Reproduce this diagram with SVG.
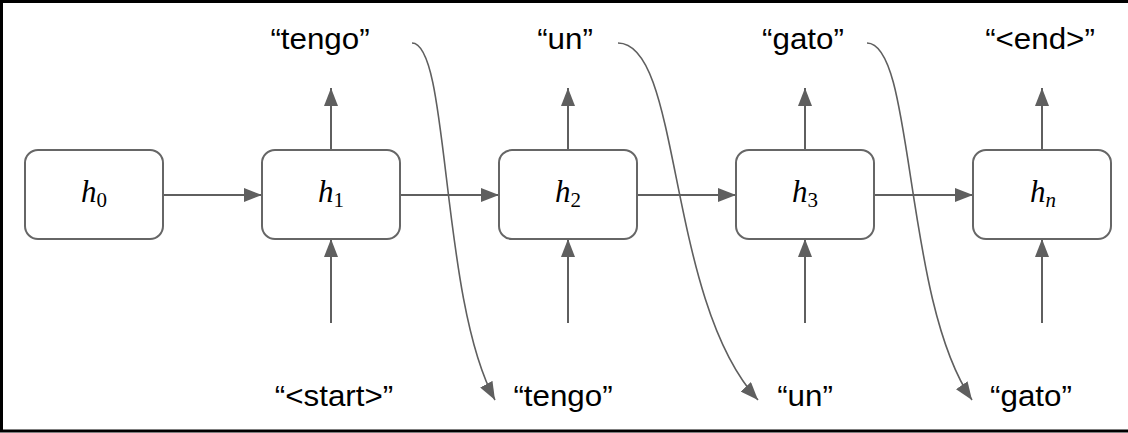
<svg xmlns="http://www.w3.org/2000/svg" width="1128" height="433" viewBox="0 0 1128 433">
<style>
.box{fill:#fff;stroke:#666;stroke-width:2}
.ar{fill:none;stroke:#5f5f5f;stroke-width:2}
.cv{fill:none;stroke:#5f5f5f;stroke-width:1.6}
.lbl{font-family:"Liberation Sans",Arial,sans-serif;font-size:29px;fill:#000;text-anchor:middle}
.math{font-family:"Liberation Serif","Times New Roman",serif;font-style:italic;font-size:31px;fill:#000;text-anchor:middle}
.sub{font-style:normal;font-size:21px}
</style>
<defs>
<marker id="ah" markerUnits="userSpaceOnUse" markerWidth="18" markerHeight="14" refX="18" refY="7" orient="auto">
<path d="M0,0 L18,7 L0,14 Z" fill="#5f5f5f"/>
</marker>
</defs>
<rect width="1128" height="433" fill="#fff"/>
<path d="M1128,1.5 H1.5 V431 H1128" fill="none" stroke="#000" stroke-width="3"/>

<g id="connectors">
<path class="ar" d="M163,195 H262" marker-end="url(#ah)"/>
<path class="ar" d="M400,195 H499" marker-end="url(#ah)"/>
<path class="ar" d="M637,195 H736" marker-end="url(#ah)"/>
<path class="ar" d="M874,195 H973" marker-end="url(#ah)"/>
<path class="ar" d="M331,150 V88" marker-end="url(#ah)"/>
<path class="ar" d="M568,150 V88" marker-end="url(#ah)"/>
<path class="ar" d="M805,150 V88" marker-end="url(#ah)"/>
<path class="ar" d="M1042,150 V88" marker-end="url(#ah)"/>
<path class="ar" d="M331,323 V239" marker-end="url(#ah)"/>
<path class="ar" d="M568,323 V239" marker-end="url(#ah)"/>
<path class="ar" d="M805,323 V239" marker-end="url(#ah)"/>
<path class="ar" d="M1042,323 V239" marker-end="url(#ah)"/>
<path class="cv" d="M412,43 C450,43 440,300 495,400" marker-end="url(#ah)"/>
<path class="cv" d="M618,43 C682,43 666,300 758,400" marker-end="url(#ah)"/>
<path class="cv" d="M867,43 C915,43 903,300 972,400" marker-end="url(#ah)"/>
</g>

<g id="node-h0"><rect class="box" x="25" y="150" width="138" height="89" rx="13"/><text class="math" x="94" y="202">h<tspan class="sub" dy="5">0</tspan></text></g>
<g id="node-h1"><rect class="box" x="262" y="150" width="138" height="89" rx="13"/><text class="math" x="331" y="202">h<tspan class="sub" dy="5">1</tspan></text></g>
<g id="node-h2"><rect class="box" x="499" y="150" width="138" height="89" rx="13"/><text class="math" x="568" y="202">h<tspan class="sub" dy="5">2</tspan></text></g>
<g id="node-h3"><rect class="box" x="736" y="150" width="138" height="89" rx="13"/><text class="math" x="805" y="202">h<tspan class="sub" dy="5">3</tspan></text></g>
<g id="node-hn"><rect class="box" x="973" y="150" width="138" height="89" rx="13"/><text class="math" x="1043" y="202">h<tspan class="sub" dy="5" style="font-style:italic">n</tspan></text></g>

<g id="labels-out">
<text class="lbl" transform="translate(320,49) scale(1.08,1)">“tengo”</text>
<text class="lbl" transform="translate(565,49) scale(1.08,1)">“un”</text>
<text class="lbl" transform="translate(803,49) scale(1.08,1)">“gato”</text>
<text class="lbl" transform="translate(1040,49) scale(1.08,1)">“&lt;end&gt;”</text>
</g>
<g id="labels-in">
<text class="lbl" transform="translate(334,406) scale(1.08,1)">“&lt;start&gt;”</text>
<text class="lbl" transform="translate(563,406) scale(1.08,1)">“tengo”</text>
<text class="lbl" transform="translate(805,406) scale(1.08,1)">“un”</text>
<text class="lbl" transform="translate(1031,406) scale(1.08,1)">“gato”</text>
</g>
</svg>
